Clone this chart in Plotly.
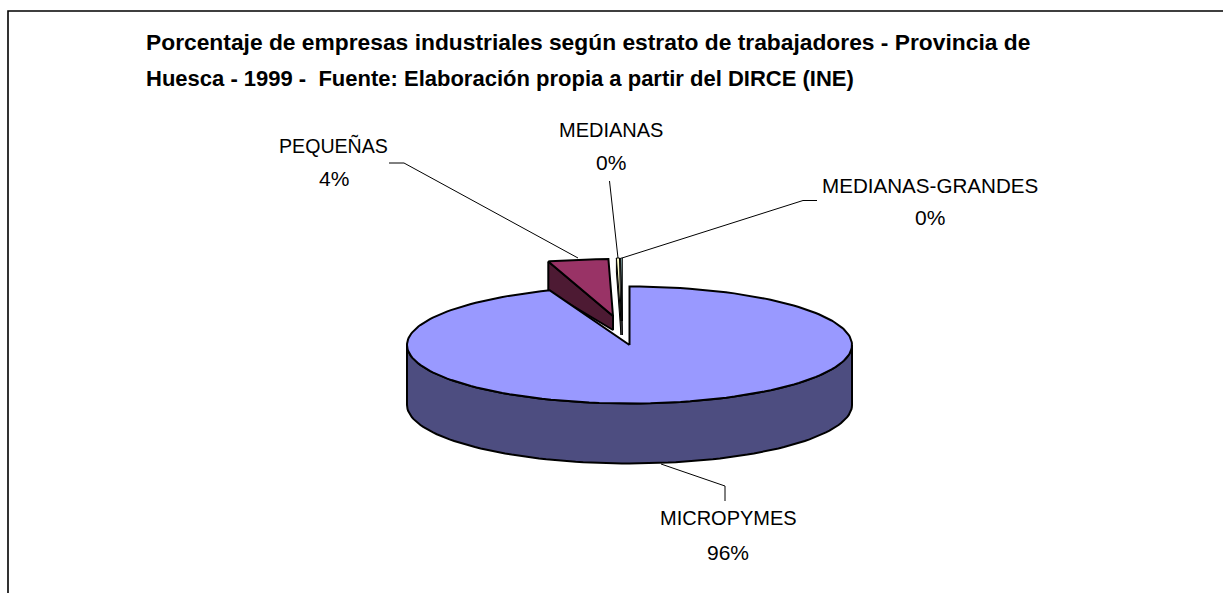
import math
import plotly.graph_objects as go

# ---- data ----
categories = ["MICROPYMES", "PEQUEÑAS", "MEDIANAS", "MEDIANAS-GRANDES"]
shares = [95.7, 4.0, 0.2, 0.1]
top_colors = ["#9999FF", "#993366", "#FFFFCC", "#CCFFFF"]
side_colors = ["#4D4D80", "#4D1A33", "#808066", "#668080"]
title_lines = [
    "Porcentaje de empresas industriales según estrato de trabajadores - Provincia de",
    "Huesca - 1999 -  Fuente: Elaboración propia a partir del DIRCE (INE)",
]

# ---- layout of the drawing (pixel space of the axes) ----
W, H = 1223, 593
CX, CY, RX, RY, DEPTH = 629.5, 345.0, 222.5, 58.5, 60
WIDEN_MAIN, WIDEN_SMALL = 1.385, 1.1   # Excel perspective widening of the angle near the back
EXPLODED = {1: (613, 316, 14, 30, 222, 57), 2: (621, 321, 14, 14, 222, 63), 3: (622.3, 321, 14, 14, 222, 63)}
LABEL_POS = {0: (728, 518, 552), 1: (333.5, 145, 178), 2: (611, 130, 162), 3: (930, 185, 217)}
LABEL_SIZE = {0: 20, 1: 19.6, 2: 20, 3: 20.6}
TITLE_SIZE = (22.8, 22)
LEADERS = [
    ([725, 725, 661], [501, 486, 464]),
    ([389, 404, 578], [163, 163, 258]),
    ([609.5, 618], [181, 258]),
    ([817, 803, 622], [200.5, 200.5, 258]),
]


def screen(theta_deg, widen):
    t = math.radians(theta_deg)
    return math.atan2(widen * math.sin(t), math.cos(t))


def arc(cx, cy, rx, ry, a0, a1, widen, n=90):
    pts = []
    for i in range(n + 1):
        s = screen(a0 + (a1 - a0) * i / n, widen)
        pts.append((cx + rx * math.sin(s), cy - ry * math.cos(s)))
    return pts


def poly(fig, pts, color, width=2):
    xs = [p[0] for p in pts] + [pts[0][0]]
    ys = [p[1] for p in pts] + [pts[0][1]]
    fig.add_trace(go.Scatter(x=xs, y=ys, mode="lines", fill="toself", fillcolor=color,
                             line=dict(color="#000000", width=width), hoverinfo="skip"))


total = sum(shares)
edges = [0.0]
for v in shares:
    edges.append(edges[-1] + v / total * 360)

fig = go.Figure()

# exploded small slices, back to front
for i in (1, 2, 3):
    ax, ay, d_in, d_out, rx, ry = EXPLODED[i]
    outer = arc(ax, ay, rx, ry, edges[i], edges[i + 1], WIDEN_SMALL)
    first = outer[0]
    width = 2 if i == 1 else 1
    poly(fig, [first, (ax, ay), (ax, ay + d_in), (first[0], first[1] + d_out)], side_colors[i], width)
    poly(fig, [(ax, ay)] + outer, top_colors[i], width)

# main slice: side wall, then top
front = arc(CX, CY, RX, RY, 90, 270, 1.0)
poly(fig, front + [(p[0], p[1] + DEPTH) for p in reversed(front)], side_colors[0])
poly(fig, [(CX, CY)] + arc(CX, CY, RX, RY, edges[0], edges[1], WIDEN_MAIN, 180), top_colors[0])

# leader lines
for xs, ys in LEADERS:
    fig.add_trace(go.Scatter(x=xs, y=ys, mode="lines", line=dict(color="#000000", width=1), hoverinfo="skip"))

# chart frame
fig.add_trace(go.Scatter(x=[8, 8, W], y=[H, 11, 11], mode="lines",
                         line=dict(color="#000000", width=1.6), hoverinfo="skip"))

annotations = []
FONT = "Liberation Sans, Arial, sans-serif"
for i, name in enumerate(categories):
    x, y1, y2 = LABEL_POS[i]
    annotations.append(dict(x=x, y=y1, text=name, showarrow=False, xanchor="center", yanchor="middle",
                            font=dict(family=FONT, size=LABEL_SIZE[i], color="#000000")))
    annotations.append(dict(x=x, y=y2, text=f"{shares[i]:.0f}%", showarrow=False, xanchor="center", yanchor="middle",
                            font=dict(family=FONT, size=21, color="#000000")))
for line, y, size in zip(title_lines, (42, 78), TITLE_SIZE):
    annotations.append(dict(x=144, y=y, text=f"<b>{line}</b>", showarrow=False, xanchor="left", yanchor="middle",
                            font=dict(family=FONT, size=size, color="#000000")))

fig.update_layout(
    width=W, height=H, margin=dict(l=0, r=0, t=0, b=0), showlegend=False,
    paper_bgcolor="#FFFFFF", plot_bgcolor="#FFFFFF", annotations=annotations,
    xaxis=dict(range=[0, W], visible=False, fixedrange=True),
    yaxis=dict(range=[H, 0], visible=False, fixedrange=True),
)
fig.write_html("out.html", config={"displayModeBar": False},
               post_script="document.body.style.margin='0';")
